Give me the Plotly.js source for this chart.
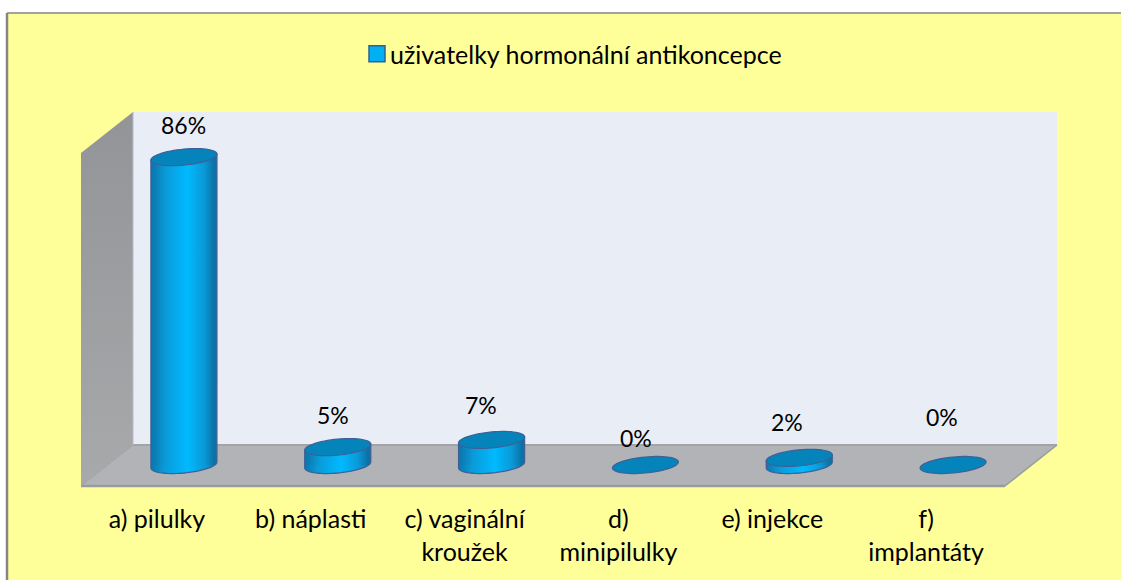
<!DOCTYPE html>
<html><head><meta charset="utf-8">
<script src="https://cdn.plot.ly/plotly-3.0.1.min.js"></script>
<style>html,body{margin:0;padding:0;background:#fff}#c{width:1121px;height:580px}</style>
</head><body><div id="c"></div>
<script>
const categories = ['a) pilulky','b) náplasti','c) vaginální<br>kroužek','d)<br>minipilulky','e) injekce','f)<br>implantáty'];
const values = [86,5,7,0,2,0];
const seriesName = 'uživatelky hormonální antikoncepce';
const labelDx = [0,-5,-11,-9,-12,-11];
const labelDy = [32,32,35,27,36,48];

const W=1121,H=580,L=107,R=1030,T=112,B=486,Y0=465,PPU=3.58;
const xUnit=(R-L)/6;
const px=x=>(x-L)/(R-L), py=y=>(B-y)/(B-T);
const poly=pts=>'M'+pts.map(p=>px(p[0]).toFixed(5)+' '+py(p[1]).toFixed(5)).join(' L')+' Z';
const paper=(pts,fill,extra)=>Object.assign({type:'path',xref:'paper',yref:'paper',layer:'below',path:poly(pts),fillcolor:fill,line:{width:0}},extra||{});
const pline=(a,b,color,width)=>({type:'line',xref:'paper',yref:'paper',layer:'below',x0:px(a[0]),y0:py(a[1]),x1:px(b[0]),y1:py(b[1]),line:{color,width}});
const A=33/xUnit,Bv=8/PPU,K=3/PPU;
const X=categories.map((_,i)=>i);
const tickPos=X.map(x=>x-27/xUnit);
const arc=(cx,v,a,b,n)=>{const o=[];for(let j=0;j<=n;j++){const t=a+(b-a)*j/n;o.push((cx+A*Math.cos(t)).toFixed(4)+' '+(v+Bv*Math.sin(t)+K*Math.cos(t)).toFixed(4));}return o;};
const shapes=[
 paper([[7,13],[1121,13],[1121,580],[7,580]],'#ffff99'),
 paper([[133,112],[1057,112],[1057,445],[133,445]],'#e9edf6'),
 paper([[81,153],[133,112],[133,445],[81,486]],'#9a9c9f'),
 paper([[81,486],[133,445],[1057,445],[1005,486]],'#b1b3b6'),
 pline([133,445],[1057,445],'#a3a4a6',2),
 pline([81,486],[1005,486],'#9a9b9d',2.5),
 pline([1005,486],[1057,445],'#9a9b9d',1.5),
 pline([133,112],[133,445],'#b9bcc4',1),
 pline([81,486],[133,445],'#a0a1a3',1),
 pline([7,13],[1121,13],'#868686',1.5),
 pline([7,13],[7,580],'#868686',2.5)
];
const wallIdx=2,bodyIdx=[];
values.forEach((v,i)=>{
  if(v>0){
    const low=arc(X[i],0,Math.PI,2*Math.PI,30);
    const path='M'+(X[i]-A)+' '+(v-K)+' L'+low.join(' L')+' L'+(X[i]+A)+' '+(v+K)+' Z';
    bodyIdx.push(shapes.length);
    shapes.push({type:'path',xref:'x',yref:'y',layer:'below',path,fillcolor:'#00b0f0',line:{color:'#3f6096',width:1.3}});
  }
});
values.forEach((v,i)=>{
  shapes.push({type:'path',xref:'x',yref:'y',layer:'above',path:'M'+arc(X[i],v,0,2*Math.PI,60).join(' L')+' Z',fillcolor:'#0583bb',line:{color:'#3f6096',width:1.2}});
});
const annotations=values.map((v,i)=>({x:X[i],y:v,xref:'x',yref:'y',text:v+'%',showarrow:false,xshift:labelDx[i],yshift:labelDy[i],font:{family:'Lato',size:23,color:'#000'}}));
const data=[{type:'bar',x:X,y:values,name:seriesName,width:(66-4)/xUnit,marker:{color:'#00b0f0',line:{width:0}},hoverinfo:'skip'}];
const layout={width:W,height:H,paper_bgcolor:'#fff',plot_bgcolor:'rgba(0,0,0,0)',
 margin:{l:L,r:W-R,t:T,b:H-B,pad:0},
 showlegend:true,
 legend:{orientation:'h',x:px(350),y:py(54),xanchor:'left',yanchor:'middle',bgcolor:'rgba(0,0,0,0)',font:{family:'Lato',size:25,color:'#000'}},
 xaxis:{type:'linear',range:[-0.5,5.5],tickmode:'array',tickvals:tickPos,ticktext:categories,showgrid:false,zeroline:false,showline:false,ticks:'',ticklabelstandoff:16,tickangle:0,tickfont:{family:'Lato',size:25,color:'#000'}},
 yaxis:{range:[(Y0-B)/PPU,(Y0-T)/PPU],visible:false,showgrid:false,zeroline:false},
 shapes,annotations};
Plotly.newPlot('c',data,layout,{displayModeBar:false,staticPlot:true}).then(gd=>{
  const svg=gd.querySelector('svg.main-svg');
  const ns='http://www.w3.org/2000/svg';
  const defs=svg.querySelector('defs')||svg.insertBefore(document.createElementNS(ns,'defs'),svg.firstChild);
  const grad=(id,x2,y2,stops)=>{const g=document.createElementNS(ns,'linearGradient');g.setAttribute('id',id);g.setAttribute('x1','0');g.setAttribute('y1','0');g.setAttribute('x2',x2);g.setAttribute('y2',y2);
    stops.forEach(s=>{const e=document.createElementNS(ns,'stop');e.setAttribute('offset',s[0]);e.setAttribute('stop-color',s[1]);g.appendChild(e);});defs.appendChild(g);};
  grad('cyl',1,0,[[0,'#0a78ae'],[0.2,'#0a9ad8'],[0.55,'#00baff'],[0.82,'#0a9ad8'],[1,'#0a6fa3']]);
  grad('wall',0,1,[[0,'#929497'],[1,'#a8a9ab']]);
  gd.querySelectorAll('.bars .point path').forEach(p=>{p.style.fill='url(#cyl)';});
  bodyIdx.forEach(i=>{const p=gd.querySelector('.shapelayer path[data-index="'+i+'"]');if(p)p.style.fill='url(#cyl)';});
  const w=gd.querySelector('.shapelayer path[data-index="'+wallIdx+'"]');if(w)w.style.fill='url(#wall)';
  gd.querySelectorAll('.xtick text').forEach(t=>{const ls=t.querySelectorAll('tspan.line');if(ls.length>1){ls[1].setAttribute('dy','0');ls[1].setAttribute('y',parseFloat(t.getAttribute('y'))+33);}});
  const lp=gd.querySelector('.legendpoints path');
  if(lp){lp.setAttribute('d','M8,8H-8V-8H8Z');lp.setAttribute('transform','translate(27,0)');lp.style.stroke='#2f6096';lp.style.strokeWidth='1.5';lp.style.fill='#00b0f0';}
});
</script></body></html>
